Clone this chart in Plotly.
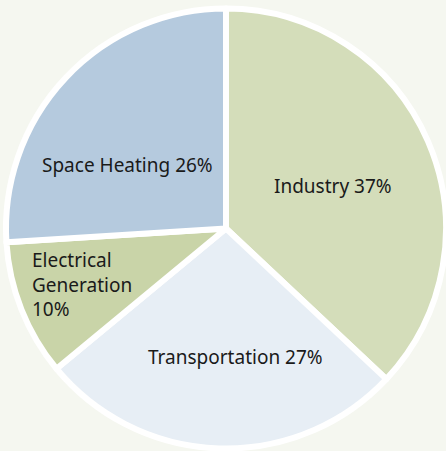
import plotly.graph_objects as go

labels = ["Industry", "Transportation", "Electrical Generation", "Space Heating"]
values = [37, 27, 10, 26]
colors = ["#d4ddba", "#e7eef5", "#c9d4a8", "#b5cade"]
label_text = ["Industry 37%", "Transportation 27%", "Electrical<br>Generation<br>10%", "Space Heating 26%"]

fig = go.Figure(go.Pie(
    labels=labels, values=values, sort=False, direction="clockwise", rotation=0,
    marker=dict(colors=colors, line=dict(color="white", width=6)),
    textinfo="none", hoverinfo="label+percent", showlegend=False,
))

ann_pos = [(0.744, 0.596, "center"), (0.522, 0.208, "center"), (0.054, 0.372, "left"), (0.276, 0.645, "center")]
for t, (x, y, xa) in zip(label_text, ann_pos):
    fig.add_annotation(x=x, y=y, xref="paper", yref="paper", text=t, showarrow=False,
                       xanchor=xa, yanchor="middle", align="left",
                       font=dict(family="Noto Sans", size=19, color="#1a1a1a"))

fig.update_layout(
    width=446, height=451,
    margin=dict(l=6, r=0, t=8, b=2),
    paper_bgcolor="#f5f7f0", plot_bgcolor="#f5f7f0",
)
fig.write_html("out.html", config={"displayModeBar": False},
               post_script="document.body.style.margin='0';document.body.style.overflow='hidden';document.body.style.background='#f5f7f0';")
